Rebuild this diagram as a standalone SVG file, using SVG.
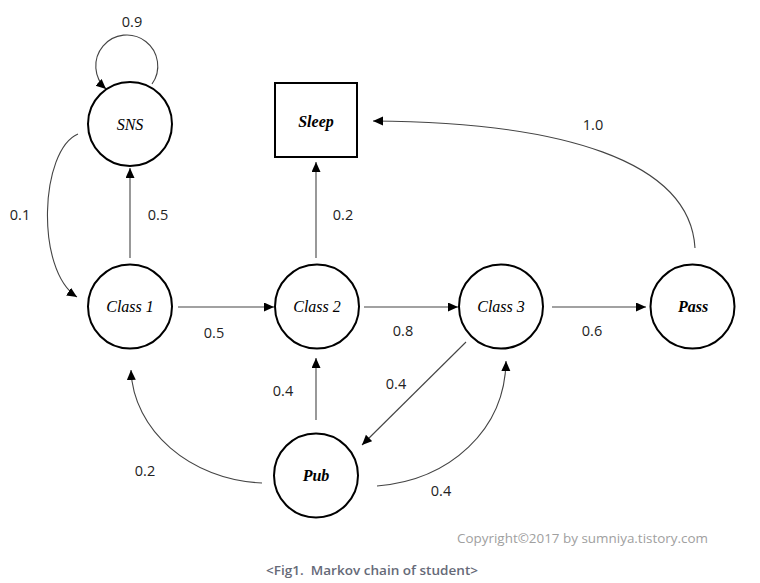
<svg xmlns="http://www.w3.org/2000/svg" width="760" height="583" viewBox="0 0 760 583">
<style>
.node{fill:#fff;stroke:#000;stroke-width:2}
.nl{font-family:"Liberation Serif","Times New Roman",serif;font-style:italic;font-size:16px;text-anchor:middle;fill:#000}
.b{font-weight:bold}
.edge{fill:none;stroke:#444;stroke-width:1.1}
.el{font-family:"Open Sans","Noto Sans",sans-serif;font-size:14.5px;fill:#222;text-anchor:middle}
.copy{font-family:"Open Sans","Noto Sans",sans-serif;font-size:13.5px;fill:#a0a0a0}
.cap{font-family:"Open Sans","Noto Sans",sans-serif;font-size:12.5px;fill:#666a78;font-weight:600}
</style>
<defs>
<marker id="ah" markerUnits="userSpaceOnUse" markerWidth="12" markerHeight="10" refX="10" refY="4.5" orient="auto">
<path d="M0,0 L10,4.5 L0,9 Z" fill="#000"/>
</marker>
</defs>
<rect width="760" height="583" fill="#fff"/>
<g id="connectors">
<path class="edge" d="M152,84 A31,31 0 1 0 106,89" marker-end="url(#ah)"/>
<path class="edge" d="M78,134 C40,150 35,270 77,297" marker-end="url(#ah)"/>
<path class="edge" d="M130,258 L130,168" marker-end="url(#ah)"/>
<path class="edge" d="M316,258 L316,162" marker-end="url(#ah)"/>
<path class="edge" d="M178,307 L274,307" marker-end="url(#ah)"/>
<path class="edge" d="M364,307 L458,307" marker-end="url(#ah)"/>
<path class="edge" d="M552,307 L646,307" marker-end="url(#ah)"/>
<path class="edge" d="M316,420 L316,358" marker-end="url(#ah)"/>
<path class="edge" d="M466,342 L362,445" marker-end="url(#ah)"/>
<path class="edge" d="M262,483 C190,480 133,430 131,370" marker-end="url(#ah)"/>
<path class="edge" d="M377,486 C450,480 505,430 506,361" marker-end="url(#ah)"/>
<path class="edge" d="M695,248 C690,160 560,122 373,121" marker-end="url(#ah)"/>
<text class="el" x="132" y="27">0.9</text>
<text class="el" x="20" y="220">0.1</text>
<text class="el" x="158" y="220">0.5</text>
<text class="el" x="343" y="220">0.2</text>
<text class="el" x="593" y="130">1.0</text>
<text class="el" x="214" y="338">0.5</text>
<text class="el" x="403" y="336">0.8</text>
<text class="el" x="592" y="336">0.6</text>
<text class="el" x="283" y="396">0.4</text>
<text class="el" x="396" y="389">0.4</text>
<text class="el" x="145" y="476">0.2</text>
<text class="el" x="441" y="496">0.4</text>
</g>
<g id="sns"><circle class="node" cx="130" cy="124" r="42"/><text class="nl" x="130" y="130">SNS</text></g>
<g id="sleep"><rect class="node" x="275" y="83" width="82" height="74"/><text class="nl b" x="316" y="127">Sleep</text></g>
<g id="class1"><circle class="node" cx="130" cy="306.5" r="42"/><text class="nl" x="130" y="312">Class 1</text></g>
<g id="class2"><circle class="node" cx="317" cy="306.5" r="42"/><text class="nl" x="317" y="312">Class 2</text></g>
<g id="class3"><circle class="node" cx="501" cy="306.5" r="42"/><text class="nl" x="501" y="312">Class 3</text></g>
<g id="pass"><circle class="node" cx="692.5" cy="306.5" r="42"/><text class="nl b" x="693" y="312">Pass</text></g>
<g id="pub"><circle class="node" cx="316" cy="475.5" r="42"/><text class="nl b" x="316" y="481">Pub</text></g>
<text class="copy" x="457" y="543" textLength="251" lengthAdjust="spacingAndGlyphs">Copyright©2017 by sumniya.tistory.com</text>
<text class="cap" x="266" y="575" textLength="212" lengthAdjust="spacingAndGlyphs" xml:space="preserve">&lt;Fig1.  Markov chain of student&gt;</text>
</svg>
